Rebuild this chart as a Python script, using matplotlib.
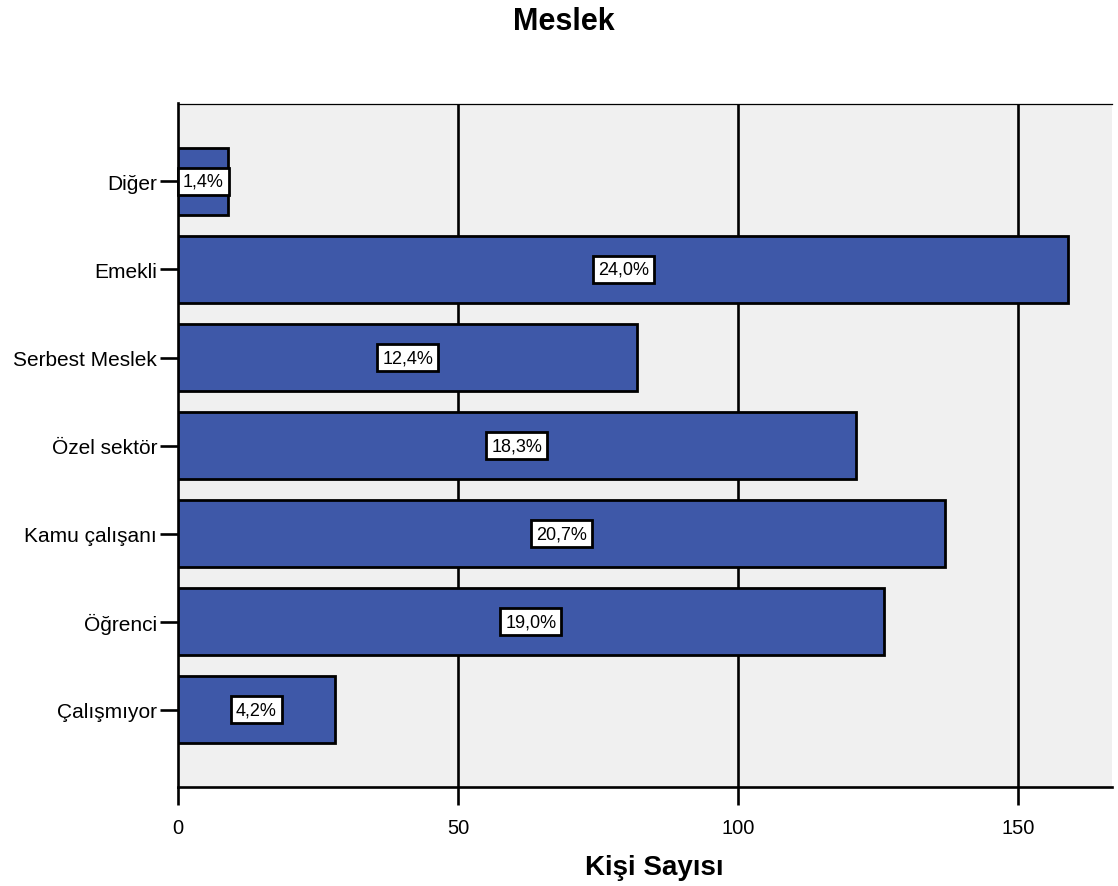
import matplotlib
matplotlib.use("Agg")
import matplotlib.pyplot as plt

categories = ["Çalışmıyor", "Öğrenci", "Kamu çalışanı", "Özel sektör", "Serbest Meslek", "Emekli", "Diğer"]
counts = [28, 126, 137, 121, 82, 159, 9]
pct_labels = ["4,2%", "19,0%", "20,7%", "18,3%", "12,4%", "24,0%", "1,4%"]
xticks = [0, 50, 100, 150]

plt.rcParams['font.family'] = ['Liberation Sans', 'DejaVu Sans']

fig = plt.figure(figsize=(11.18, 8.87), dpi=100)
ax = fig.add_axes([178/1118, 1-788/887, (1112-178)/1118, (788-104.5)/887])
ax.set_facecolor('#f0f0f0')

ypos = list(range(len(categories)))
ax.barh(ypos, counts, height=0.76, color='#3e58a8', edgecolor='black', linewidth=2.0, zorder=3)
for x in xticks[1:]:
    ax.axvline(x, color='black', linewidth=1.9, zorder=2)
for y, c, t in zip(ypos, counts, pct_labels):
    ax.text(c/2, y, t, ha='center', va='center', fontsize=13, zorder=4,
            bbox=dict(boxstyle='square,pad=0.28', facecolor='white', edgecolor='black', linewidth=2.0))

ax.set_xlim(0, (1112-178)/5.6)
ax.set_ylim(-0.88, len(categories)-1+0.886)
ax.set_yticks(ypos)
ax.set_yticklabels(categories, fontsize=15)
ax.set_xticks(xticks)
ax.set_xticklabels([str(x) for x in xticks], fontsize=14.5)
ax.tick_params(axis='both', direction='out', length=13, width=1.9)
ax.tick_params(axis='y', pad=2)
ax.tick_params(axis='x', pad=9)
for s in ['left', 'bottom']:
    ax.spines[s].set_linewidth(1.9)
ax.spines['top'].set_linewidth(0.9)
ax.spines['right'].set_visible(False)

fig.text(654/1118, 1-868/887, "Kişi Sayısı", ha='center', va='center', fontsize=20, fontweight='bold')
fig.text(564/1118, 1-22/887, "Meslek", ha='center', va='center', fontsize=22, fontweight='bold')

fig.savefig("out.png", dpi=100)
